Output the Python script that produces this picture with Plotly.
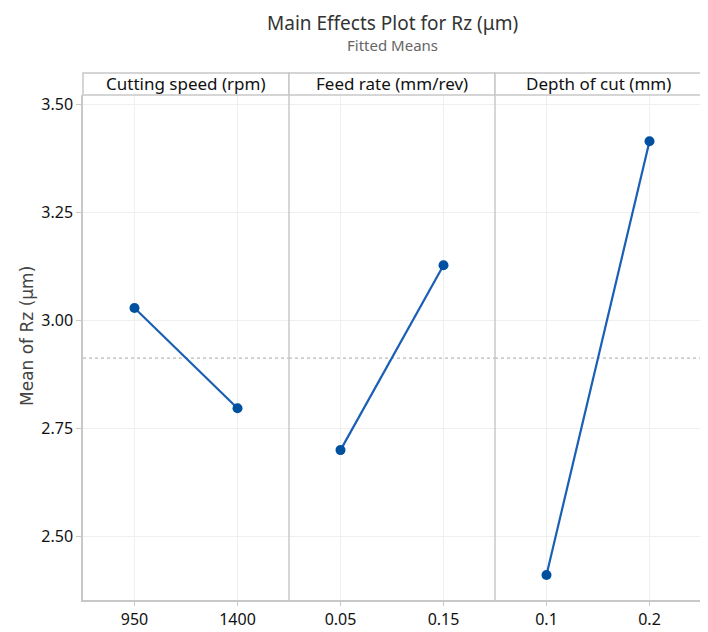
import plotly.graph_objects as go
from plotly.subplots import make_subplots

factors = ["Cutting speed (rpm)", "Feed rate (mm/rev)", "Depth of cut (mm)"]
levels = [["950", "1400"], ["0.05", "0.15"], ["0.1", "0.2"]]
means = [[3.028, 2.796], [2.699, 3.127], [2.410, 3.414]]
grand_mean = 2.912
y_ticks = [2.50, 2.75, 3.00, 3.25, 3.50]

fig = make_subplots(rows=1, cols=3, shared_yaxes=True, horizontal_spacing=0)

line_col = "#1a5fb4"
mark_col = "#0050a0"
grid_col = "#efefef"
axis_col = "#c8c8c8"
font_fam = "Noto Sans, Open Sans, sans-serif"

shapes = []
annotations = []
for i in range(3):
    fig.add_trace(go.Scatter(
        x=levels[i], y=means[i], mode="lines+markers",
        line=dict(color=line_col, width=2.2),
        marker=dict(color=mark_col, size=10),
        showlegend=False, cliponaxis=False), row=1, col=i + 1)
    fig.update_xaxes(type="category", categoryorder="array", categoryarray=levels[i],
                     range=[-0.5, 1.5], showgrid=True, gridcolor=grid_col,
                     showline=True, linecolor=axis_col, linewidth=1.5,
                     ticks="outside", ticklen=4, tickcolor=axis_col,
                     tickfont=dict(size=16, color="#111", family=font_fam),
                     zeroline=False, automargin=False, row=1, col=i + 1)
    xr = "x" if i == 0 else f"x{i + 1}"
    shapes.append(dict(type="line", xref=f"{xr} domain", yref="y", x0=0, x1=1,
                       y0=grand_mean, y1=grand_mean,
                       line=dict(color="#a8a8a8", width=1, dash="dot"), layer="below"))

fig.update_yaxes(range=[2.352, 3.521], tickvals=y_ticks,
                 ticktext=[f"{v:.2f}" for v in y_ticks],
                 showgrid=True, gridcolor=grid_col, zeroline=False, automargin=False,
                 tickfont=dict(size=16, color="#111", family=font_fam))
fig.update_yaxes(showline=True, linecolor=axis_col, linewidth=1.5,
                 ticks="outside", ticklen=5, tickcolor=axis_col, row=1, col=1)

# panel borders and strip headers
strip_h = 22 / 505
for i in range(3):
    x0, x1 = i / 3, (i + 1) / 3
    shapes.append(dict(type="rect", xref="paper", yref="paper", x0=x0, x1=x1,
                       y0=1, y1=1 + strip_h, line=dict(color=axis_col, width=1.5),
                       fillcolor="white", layer="above"))
    shapes.append(dict(type="line", xref="paper", yref="paper", x0=x1, x1=x1,
                       y0=0, y1=1, line=dict(color=axis_col, width=1.5)))
    annotations.append(dict(text=factors[i], xref="paper", yref="paper",
                            x=(x0 + x1) / 2, y=1 + strip_h / 2, showarrow=False,
                            xanchor="center", yanchor="middle",
                            font=dict(size=17, color="#111", family=font_fam)))

annotations.append(dict(text="Main Effects Plot for Rz (μm)", xref="paper", yref="paper",
                        x=0.5, y=1 + 72 / 505, showarrow=False, xanchor="center",
                        yanchor="middle", font=dict(size=19, color="#333", family=font_fam)))
annotations.append(dict(text="Fitted Means", xref="paper", yref="paper",
                        x=0.5, y=1 + 50 / 505, showarrow=False, xanchor="center",
                        yanchor="middle", font=dict(size=15, color="#666", family=font_fam)))
annotations.append(dict(text="Mean of Rz (μm)", xref="paper", yref="paper",
                        x=(19 - 75) / 618, y=(592 - 328) / 505, showarrow=False,
                        textangle=-90, xanchor="center", yanchor="middle",
                        font=dict(size=17, color="#444", family="DejaVu Sans, sans-serif")))

# the page body adds an 8px offset, so the figure is sized and placed accordingly
fig.update_layout(width=700, height=624, margin=dict(l=75, r=7, t=87, b=32),
                  plot_bgcolor="white", paper_bgcolor="white",
                  shapes=shapes, annotations=annotations)

fig.write_html("out.html")
